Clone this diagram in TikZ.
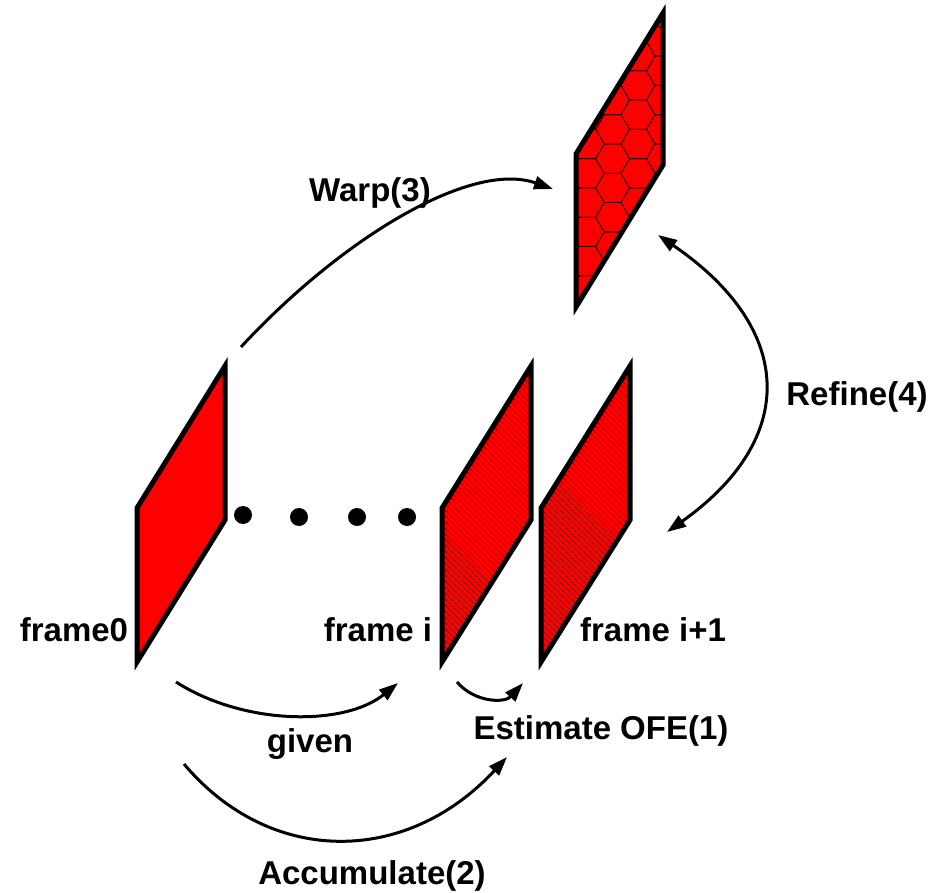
\documentclass[tikz,border=0pt]{standalone}
\usepackage{fontspec}
\setmainfont{Liberation Sans}
\usetikzlibrary{arrows.meta,patterns.meta}
\tikzset{
  frameshape/.style={draw=black, line width=5pt, line join=miter},
  conn/.style={line width=3pt, -{Triangle[length=19pt,width=13pt]}},
  dconn/.style={line width=3pt, {Triangle[length=19pt,width=13pt]}-{Triangle[length=19pt,width=13pt]}},
  lbl/.style={font=\fontsize{33}{40}\selectfont\bfseries, inner sep=0pt, anchor=base},
  hatch/.style={pattern={Lines[angle=-45,distance=4pt,line width=0.6pt]}, pattern color=black!75!red},
  dotstyle/.style={fill=black}
}
\begin{document}
\begin{tikzpicture}[x=1pt,y=-1pt]
\useasboundingbox (0,0) rectangle (934,893);

% frame 0
\fill[red] (137,508) -- (225,366) -- (225,520) -- (137,662) -- cycle;
\draw[frameshape] (137,508) -- (225,366) -- (225,520) -- (137,662) -- cycle;

% frame i
\fill[red] (442,508) -- (531,366) -- (531,520) -- (442,662) -- cycle;
\fill[hatch] (442,508) -- (531,366) -- (531,520) -- (442,662) -- cycle;
\draw[frameshape] (442,508) -- (531,366) -- (531,520) -- (442,662) -- cycle;

% frame i+1
\fill[red] (541,508) -- (630,366) -- (630,520) -- (541,662) -- cycle;
\fill[hatch] (541,508) -- (630,366) -- (630,520) -- (541,662) -- cycle;
\draw[frameshape] (541,508) -- (630,366) -- (630,520) -- (541,662) -- cycle;

% warped frame with hexagon texture
\fill[red] (576,154) -- (663,13) -- (663,165) -- (576,307) -- cycle;
\begin{scope}
  \clip (576,154) -- (663,13) -- (663,165) -- (576,307) -- cycle;
  \foreach \i in {-3,...,2}{
    \foreach \j in {-4,...,10}{
      \pgfmathsetmacro{\cx}{638+25.4*\i}
      \pgfmathsetmacro{\cy}{85.4+29.3*\j+14.65*mod(abs(\i),2)}
      \draw[black!80!red, line width=0.8pt]
        (\cx+16.9,\cy) -- (\cx+8.45,\cy+14.65) -- (\cx-8.45,\cy+14.65)
        -- (\cx-16.9,\cy) -- (\cx-8.45,\cy-14.65) -- (\cx+8.45,\cy-14.65) -- cycle;
    }
  }
\end{scope}
\draw[frameshape] (576,154) -- (663,13) -- (663,165) -- (576,307) -- cycle;

% dots
\foreach \x/\y [count=\k] in {243/515, 299/517, 357/517, 407/517}
  \fill[dotstyle] (\x,\y) circle (9);

% labels
\node[lbl] (warp)   at (370,202) {Warp(3)};
\node[lbl] (refine) at (857,405) {Refine(4)};
\node[lbl] (f0)     at (74,641)  {frame0};
\node[lbl] (fi)     at (378,641) {frame i};
\node[lbl] (fi1)    at (653,641) {frame i+1};
\node[lbl] (est)    at (601,739) {Estimate OFE(1)};
\node[lbl] (given)  at (310,752) {given};
\node[lbl] (acc)    at (372,884) {Accumulate(2)};

% connector end points
\coordinate (g0) at (176,682);
\coordinate (g1) at (398,683);
\coordinate (s0) at (457,682);
\coordinate (s1) at (523,683);
\coordinate (a0) at (184,764);
\coordinate (a1) at (507,757);
\coordinate (w0) at (241,347);
\coordinate (w1) at (553,189);
\coordinate (r0) at (658,235);
\coordinate (r1) at (667,532);

\draw[conn] (g0) .. controls (245,726) and (345,726) .. (g1);
\draw[conn] (s0) .. controls (475,703) and (505,703) .. (s1);
\draw[conn] (a0) .. controls (270,866) and (406,866) .. (a1);
\draw[conn] (w0) .. controls (340,240) and (470,160) .. (w1);
\draw[dconn] (r0) .. controls (797,330) and (797,440) .. (r1);
\end{tikzpicture}
\end{document}
